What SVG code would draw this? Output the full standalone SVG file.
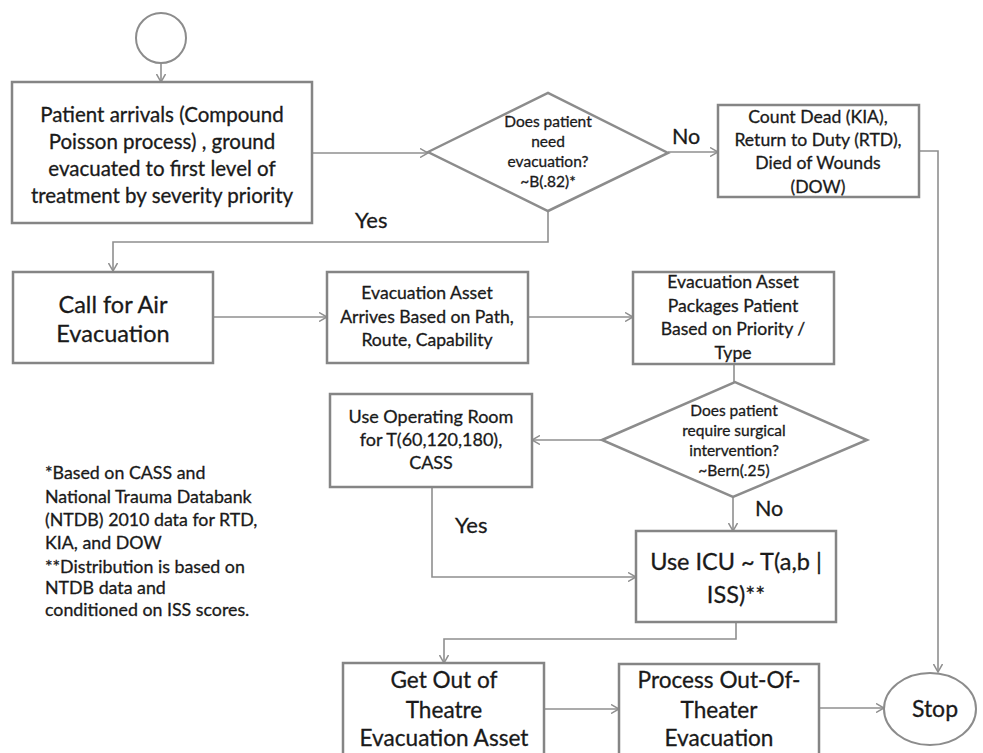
<svg xmlns="http://www.w3.org/2000/svg" width="983" height="753" viewBox="0 0 983 753">
<style>
.box{fill:#fff;stroke:#858585;stroke-width:2.5}
.dia{fill:#fff;stroke:#8c8c8c;stroke-width:2.5}
.con{fill:none;stroke:#8f8f8f;stroke-width:1.6}
text{font-family:Lato,"Liberation Sans",sans-serif;fill:#1a1a1a;stroke:#1a1a1a;stroke-width:0.3;text-anchor:middle}
.lab{text-anchor:start}
</style>
<defs>
<marker id="arr" markerWidth="10" markerHeight="10" refX="8" refY="5" orient="auto" markerUnits="userSpaceOnUse">
<path d="M0,0.5 L8,5 L0,9.5" fill="none" stroke="#8f8f8f" stroke-width="1.5"/>
</marker>
</defs>
<rect width="983" height="753" fill="#fff"/>
<g id="connectors">
<path class="con" d="M161,63 V82" marker-end="url(#arr)"/>
<path class="con" d="M312,153 H428" marker-end="url(#arr)"/>
<path class="con" d="M668,152 H718" marker-end="url(#arr)"/>
<path class="con" d="M919,151 H938 V672" marker-end="url(#arr)"/>
<path class="con" d="M548,211 V242 H113 V271" marker-end="url(#arr)"/>
<path class="con" d="M213,317 H327" marker-end="url(#arr)"/>
<path class="con" d="M528,317 H633" marker-end="url(#arr)"/>
<path class="con" d="M734,364 V392" marker-end="url(#arr)"/>
<path class="con" d="M602,440 H532" marker-end="url(#arr)"/>
<path class="con" d="M733,497 V531" marker-end="url(#arr)"/>
<path class="con" d="M432,487 V577 H636" marker-end="url(#arr)"/>
<path class="con" d="M736,622 V639 H444 V663" marker-end="url(#arr)"/>
<path class="con" d="M544,709 H619" marker-end="url(#arr)"/>
<path class="con" d="M819,708 H884" marker-end="url(#arr)"/>
</g>
<g id="start"><circle cx="161" cy="38" r="25" fill="#fff" stroke="#8c8c8c" stroke-width="2"/></g>
<g id="arrivals">
<rect class="box" x="12" y="82" width="300" height="141"/>
<text font-size="20.5"><tspan x="162" y="122">Patient arrivals (Compound</tspan><tspan x="162" y="149">Poisson process) , ground</tspan><tspan x="162" y="176">evacuated to first level of</tspan><tspan x="162" y="203">treatment by severity priority</tspan></text>
</g>
<g id="need-evac">
<polygon class="dia" points="428,152 548,93 668,153 548,211"/>
<text font-size="15.5"><tspan x="548" y="127">Does patient</tspan><tspan x="548" y="147">need</tspan><tspan x="548" y="167">evacuation?</tspan><tspan x="548" y="187">~B(.82)*</tspan></text>
</g>
<g id="count-dead">
<rect class="box" x="718" y="105" width="201" height="92"/>
<text font-size="17.6"><tspan x="818" y="123">Count Dead (KIA),</tspan><tspan x="818" y="146">Return to Duty (RTD),</tspan><tspan x="818" y="169">Died of Wounds</tspan><tspan x="818" y="193">(DOW)</tspan></text>
</g>
<g id="labels">
<text class="lab" font-size="21.5" x="672" y="144">No</text>
<text class="lab" font-size="22" x="355" y="228">Yes</text>
<text class="lab" font-size="22" x="455" y="533">Yes</text>
<text class="lab" font-size="21.5" x="755" y="516">No</text>
</g>
<g id="call-air">
<rect class="box" x="13" y="272" width="200" height="91"/>
<text font-size="23.5"><tspan x="113" y="313">Call for Air</tspan><tspan x="113" y="342">Evacuation</tspan></text>
</g>
<g id="asset-arrives">
<rect class="box" x="327" y="272" width="201" height="91"/>
<text font-size="17.6"><tspan x="427" y="299">Evacuation Asset</tspan><tspan x="427" y="323">Arrives Based on Path,</tspan><tspan x="427" y="346">Route, Capability</tspan></text>
</g>
<g id="asset-packages">
<rect class="box" x="633" y="272" width="201" height="92"/>
<text font-size="17.6"><tspan x="733" y="288">Evacuation Asset</tspan><tspan x="733" y="312">Packages Patient</tspan><tspan x="733" y="335">Based on Priority /</tspan><tspan x="733" y="359">Type</tspan></text>
</g>
<g id="surgical">
<polygon class="dia" points="602,440 735,382 867,440 733,497"/>
<text font-size="15.5"><tspan x="734" y="416">Does patient</tspan><tspan x="734" y="436">require surgical</tspan><tspan x="734" y="456">intervention?</tspan><tspan x="734" y="476">~Bern(.25)</tspan></text>
</g>
<g id="operating-room">
<rect class="box" x="330" y="394" width="202" height="93"/>
<text font-size="18"><tspan x="431" y="423">Use Operating Room</tspan><tspan x="431" y="446">for T(60,120,180),</tspan><tspan x="431" y="469">CASS</tspan></text>
</g>
<g id="icu">
<rect class="box" x="636" y="531" width="200" height="91"/>
<text font-size="23.5"><tspan x="736" y="570">Use ICU ~ T(a,b |</tspan><tspan x="736" y="603">ISS)**</tspan></text>
</g>
<g id="notes">
<text class="lab" font-size="17.8"><tspan x="45" y="479">*Based on CASS and</tspan><tspan x="45" y="503">National Trauma Databank</tspan><tspan x="45" y="526">(NTDB) 2010 data for RTD,</tspan><tspan x="45" y="549">KIA, and DOW</tspan><tspan x="45" y="573">**Distribution is based on</tspan><tspan x="45" y="594">NTDB data and</tspan><tspan x="45" y="616">conditioned on ISS scores.</tspan></text>
</g>
<g id="get-out">
<rect class="box" x="343" y="663" width="201" height="100"/>
<text font-size="22.6"><tspan x="444" y="688">Get Out of</tspan><tspan x="444" y="718">Theatre</tspan><tspan x="444" y="746">Evacuation Asset</tspan></text>
</g>
<g id="process-out">
<rect class="box" x="619" y="664" width="200" height="100"/>
<text font-size="22.6"><tspan x="719" y="688">Process Out-Of-</tspan><tspan x="719" y="718">Theater</tspan><tspan x="719" y="746">Evacuation</tspan></text>
</g>
<g id="stop">
<ellipse cx="930" cy="709" rx="46" ry="36" fill="#fff" stroke="#8c8c8c" stroke-width="2"/>
<text font-size="23" x="935" y="717">Stop</text>
</g>
</svg>
